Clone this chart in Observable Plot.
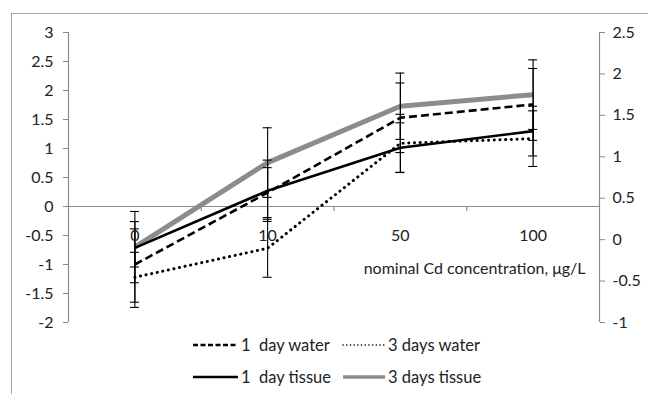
<!DOCTYPE html>
<html>
<head>
<meta charset="utf-8">
<script src="https://cdn.jsdelivr.net/npm/d3@7"></script>
<script src="https://cdn.jsdelivr.net/npm/@observablehq/plot@0.6"></script>
<style>
  html, body { margin: 0; padding: 0; background: #fff; }
  #wrap { position: relative; width: 648px; height: 394px; overflow: hidden; font-family: Lato, "Open Sans", sans-serif; color: #222; }
  #border { position: absolute; left: 11px; top: 13px; width: 700px; height: 500px; border-left: 1.5px solid #a6a6a6; border-top: 1.5px solid #a6a6a6; }
  #chart { position: absolute; left: 0; top: 0; }
  .leg { position: absolute; display: flex; align-items: center; font-size: 16.5px; white-space: pre; height: 20px; }
  .leg svg { margin-right: 2px; }
</style>
</head>
<body>
<div id="wrap">
  <div id="border"></div>
  <div id="chart"></div>
  <div id="legend"></div>
</div>
<script>
// ---- data ----
const categories = ["0", "10", "50", "100"];
const leftTicks = [-2, -1.5, -1, -0.5, 0, 0.5, 1, 1.5, 2, 2.5, 3];
const rightTicks = [-1, -0.5, 0, 0.5, 1, 1.5, 2, 2.5];
const xTitle = "nominal Cd concentration, μg/L";

// water series on left axis
const oneDayWater = [-1.0, 0.24, 1.53, 1.76];
const oneDayWaterErr = [0.74, 0.43, 0.6, 0.62];
const threeDaysWater = [-1.22, -0.72, 1.09, 1.17];
const threeDaysWaterErr = [0.43, 0.5, 0.5, 0.48];
// tissue series on right axis
const oneDayTissue = [-0.1, 0.59, 1.11, 1.31];
const oneDayTissueErr = [0.23, 0.37, 0.3, 0.3];
const threeDaysTissue = [-0.09, 0.93, 1.61, 1.75];
const threeDaysTissueErr = [0.43, 0.42, 0.4, 0.42];

const seriesNames = ["1  day water", "3 days water", "1  day tissue", "3 days tissue"];

// ---- build ----
const leftDomain = [-2, 3];
const rightDomain = [-1, 2.5];
const toLeft = d3.scaleLinear().domain(rightDomain).range(leftDomain);

const series = [
  {name: seriesNames[0], v: oneDayWater, e: oneDayWaterErr, right: false, stroke: "#000", width: 2.6, dash: "8,4", cap: "butt", legW: 2.6, legDash: "5,2.5"},
  {name: seriesNames[1], v: threeDaysWater, e: threeDaysWaterErr, right: false, stroke: "#000", width: 3, dash: "0.1,5.6", cap: "round", legW: 1.6, legDash: "0.1,3.6"},
  {name: seriesNames[2], v: oneDayTissue, e: oneDayTissueErr, right: true, stroke: "#000", width: 2.6, dash: null, cap: "butt", legW: 2.6, legDash: null},
  {name: seriesNames[3], v: threeDaysTissue, e: threeDaysTissueErr, right: true, stroke: "#8c8c8c", width: 5, dash: null, cap: "butt", legW: 3.4, legDash: null}
];

const conv = (s, v) => s.right ? toLeft(v) : v;
const rows = series.flatMap(s => s.v.map((v, i) => ({
  series: s.name, i, y: conv(s, v), lo: conv(s, v - s.e[i]), hi: conv(s, v + s.e[i])
})));

const W = 648, H = 330, mL = 68, mR = 49, mT = 32, mB = 8;
const pxPerX = (W - mL - mR) / categories.length;
const pxPerY = (H - mT - mB) / (leftDomain[1] - leftDomain[0]);
const capHalf = 4.5 / pxPerX;
const tickLen = 5 / pxPerY;
const fmt = d => String(Math.round(d * 10) / 10);
const axisGray = "#8c8c8c";

const drawOrder = [3, 0, 1, 2];
const lineMarks = drawOrder.map(k => {
  const s = series[k];
  return Plot.line(rows.filter(r => r.series === s.name), {
    x: "i", y: "y", stroke: s.stroke, strokeWidth: s.width,
    strokeDasharray: s.dash, strokeLinecap: s.cap, strokeLinejoin: "round"
  });
});

const chart = Plot.plot({
  width: W, height: H,
  marginLeft: mL, marginRight: mR, marginTop: mT, marginBottom: mB,
  x: {type: "linear", domain: [-0.5, categories.length - 0.5], axis: null},
  y: {domain: leftDomain, axis: null},
  style: {fontFamily: "Lato, 'Open Sans', sans-serif", fontSize: "16px", color: "#222", background: "transparent", overflow: "visible"},
  marks: [
    Plot.ruleY([0], {stroke: axisGray, strokeWidth: 1.2}),
    Plot.ruleX([-0.5], {stroke: axisGray, strokeWidth: 1.2}),
    Plot.ruleX([categories.length - 0.5], {stroke: axisGray, strokeWidth: 1.2}),
    Plot.ruleX(d3.range(1, categories.length).map(i => i - 0.5), {y1: 0, y2: -tickLen, stroke: axisGray, strokeWidth: 1.2}),
    Plot.axisY(leftTicks, {anchor: "left", tickSize: 5, tickPadding: 10, stroke: axisGray, fill: "#222", tickFormat: fmt}),
    Plot.axisY(rightTicks.map(t => toLeft(t)), {anchor: "right", tickSize: 5, tickPadding: 8, stroke: axisGray, fill: "#222", tickFormat: d => fmt(toLeft.invert(d))}),
    ...lineMarks,
    Plot.ruleX(rows, {x: "i", y1: "lo", y2: "hi", stroke: "#000", strokeWidth: 1.1}),
    Plot.ruleY(rows, {y: "lo", x1: d => d.i - capHalf, x2: d => d.i + capHalf, stroke: "#000", strokeWidth: 1.1}),
    Plot.ruleY(rows, {y: "hi", x1: d => d.i - capHalf, x2: d => d.i + capHalf, stroke: "#000", strokeWidth: 1.1}),
    Plot.text(categories, {x: (d, i) => i, y: 0, dy: 29, text: d => d, fill: "#222"}),
    Plot.text([xTitle], {x: categories.length - 0.5, y: 0, dy: 62, dx: -14, textAnchor: "end", fill: "#222"})
  ]
});
document.getElementById("chart").appendChild(chart);

// ---- legend ----
const legendPos = [
  {k: 0, left: 192, top: 335},
  {k: 1, left: 342, top: 335},
  {k: 2, left: 192, top: 367},
  {k: 3, left: 342, top: 367}
];
const legend = document.getElementById("legend");
legendPos.forEach(p => {
  const s = series[p.k];
  const sampleW = p.k % 2 === 0 ? 47 : 44;
  const div = document.createElement("div");
  div.className = "leg";
  div.style.left = p.left + "px";
  div.style.top = p.top + "px";
  div.innerHTML = `<svg width="${sampleW}" height="10"><line x1="1" x2="${sampleW - 1}" y1="5" y2="5" stroke="${s.stroke}" stroke-width="${s.legW}" ${s.legDash ? `stroke-dasharray="${s.legDash}"` : ""} stroke-linecap="${s.cap}"/></svg><span>${s.name}</span>`;
  legend.appendChild(div);
});
</script>
</body>
</html>
